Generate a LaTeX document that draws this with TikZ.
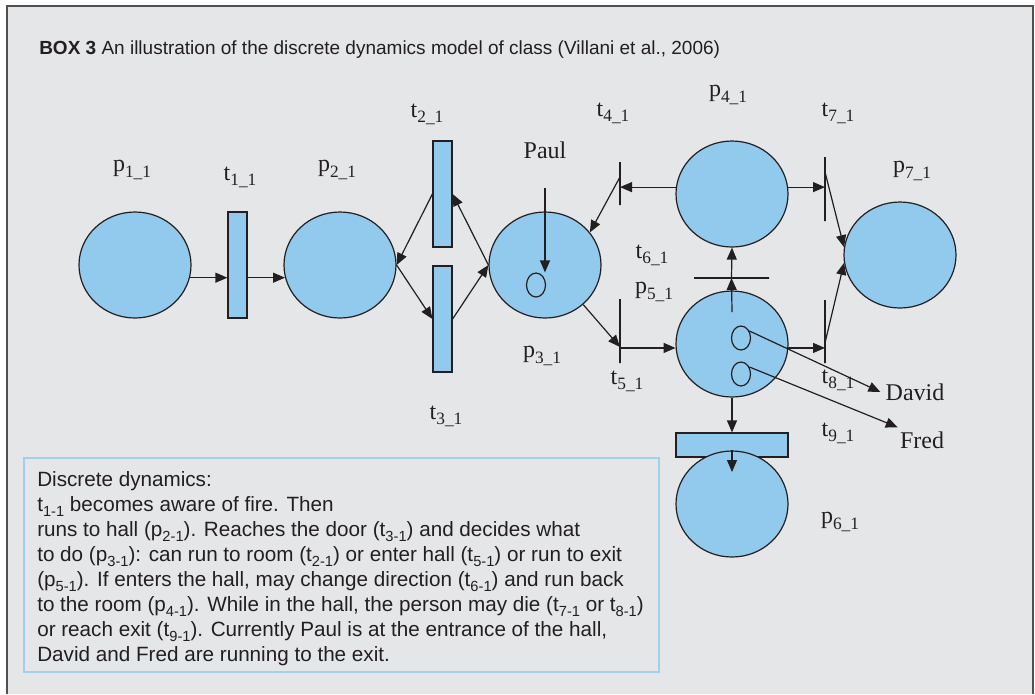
\documentclass[tikz,border=0pt]{standalone}
\usepackage{fontspec}
\setmainfont{Liberation Serif}
\newfontfamily\boxfont{Liberation Sans}
\usetikzlibrary{shapes.geometric,arrows.meta}
\definecolor{bg}{RGB}{229,230,232}
\definecolor{framec}{RGB}{80,80,82}
\definecolor{placec}{RGB}{146,202,237}
\definecolor{boxline}{RGB}{160,208,238}
\definecolor{ink}{RGB}{35,31,32}
\newcommand\lsub[1]{\raisebox{-0.22em}{\fontsize{13}{13}\selectfont #1}}
\newcommand\bsub[1]{\raisebox{-0.25em}{\fontsize{11}{11}\selectfont #1}}
\begin{document}
\begin{tikzpicture}[x=0.75pt,y=-0.75pt,
 place/.style={ellipse,draw=ink,fill=placec,line width=0.9pt,minimum width=84pt,minimum height=79.5pt,inner sep=0pt},
 trans/.style={rectangle,draw=ink,fill=placec,line width=0.9pt,inner sep=0pt},
 vtrans/.style={trans,minimum width=14.25pt,minimum height=79.5pt},
 bar/.style={draw=ink,line width=0.9pt,inner sep=0pt,minimum width=0pt},
 token/.style={ellipse,draw=ink,line width=0.9pt,minimum width=14.25pt,minimum height=18pt,inner sep=0pt},
 lbl/.style={font=\fontsize{18}{18}\selectfont,inner sep=0pt,text=ink},
 arr/.style={-{Triangle[length=9pt,width=7.5pt]},line width=0.9pt,draw=ink},
]
\useasboundingbox (0,0) rectangle (1035,694);
\fill[white] (0,0) rectangle (1035,694);
\fill[bg] (7,6) rectangle (1033,694);
\draw[framec,line width=1.5pt] (7,694) -- (7,6) -- (1033,6) -- (1033,694);

\node[anchor=base west,inner sep=0pt,text=ink,font=\boxfont\fontsize{14.25}{17}\selectfont] (title) at (39,54)
 {\textbf{BOX 3} An illustration of the discrete dynamics model of class (Villani et al., 2006)};

% text box
\node[draw=boxline,line width=1.2pt,fill=bg,anchor=north west,minimum width=476.25pt,minimum height=160.5pt,inner sep=0pt] (descbox) at (23,457) {};
\node[anchor=north west,align=left,inner sep=0pt,text=ink,font=\boxfont\fontsize{15.5}{18.75}\selectfont] (desc) at (37,471)
{Discrete dynamics:\\
t\bsub{1-1} becomes aware of fire. Then\\
runs to hall (p\bsub{2-1}). Reaches the door (t\bsub{3-1}) and decides what\\
to do (p\bsub{3-1}): can run to room (t\bsub{2-1}) or enter hall (t\bsub{5-1}) or run to exit\\
(p\bsub{5-1}). If enters the hall, may change direction (t\bsub{6-1}) and run back\\
to the room (p\bsub{4-1}). While in the hall, the person may die (t\bsub{7-1} or t\bsub{8-1})\\
or reach exit (t\bsub{9-1}). Currently Paul is at the entrance of the hall,\\
David and Fred are running to the exit.};

% places and transitions
\node[place] (p1) at (135,265) {};
\node[vtrans] (t1) at (237.5,265) {};
\node[place] (p2) at (340,265) {};
\node[vtrans] (t2) at (442.5,194) {};
\node[vtrans] (t3) at (442.5,319) {};
\node[place] (p3) at (545,265) {};
\node[token] (k3) at (536,285) {};
\node[place] (p4) at (732,194) {};
\node[place] (p5) at (732,344) {};
\node[place] (p7) at (900,255) {};
\node[token] (k5a) at (741,338) {};
\node[token] (k5b) at (741,374) {};
\node[trans,minimum width=84pt,minimum height=18pt] (t9) at (732,445) {};
\node[place] (p6) at (732,504) {};
\node[bar,minimum height=32.25pt] (t4) at (620,183.5) {};
\node[bar,minimum height=48pt] (t5) at (620,331) {};
\node[bar,minimum height=48pt] (t7) at (825,189) {};
\node[bar,minimum height=47.25pt] (t8) at (825,331.5) {};
\node[bar,minimum width=56.25pt,minimum height=0pt] (t6) at (731.5,278) {};

% labels
\node[lbl] (lp1) at (132,170) {p\lsub{1\_1}};
\node[lbl] (lt1) at (240,177) {t\lsub{1\_1}};
\node[lbl] (lp2) at (337,170) {p\lsub{2\_1}};
\node[lbl] (lt2) at (427,114) {t\lsub{2\_1}};
\node[lbl] (lt3) at (446,416) {t\lsub{3\_1}};
\node[lbl] (Paul) at (545,150) {Paul};
\node[lbl] (lt4) at (613,113) {t\lsub{4\_1}};
\node[lbl] (lp4) at (728,95) {p\lsub{4\_1}};
\node[lbl] (lt7) at (838,113) {t\lsub{7\_1}};
\node[lbl] (lp7) at (912,171) {p\lsub{7\_1}};
\node[lbl] (lt6) at (652,255) {t\lsub{6\_1}};
\node[lbl] (lp5) at (654,292) {p\lsub{5\_1}};
\node[lbl] (lp3) at (542,356) {p\lsub{3\_1}};
\node[lbl] (lt5) at (627,381) {t\lsub{5\_1}};
\node[lbl] (lt8) at (838,380) {t\lsub{8\_1}};
\node[lbl] (lt9) at (838,433) {t\lsub{9\_1}};
\node[lbl] (David) at (915,392) {David};
\node[lbl] (Fred) at (922,440) {Fred};
\node[lbl] (lp6) at (840,522) {p\lsub{6\_1}};

\coordinate (paulstart) at (545,188);
\coordinate (p5in) at (732,312);
\coordinate (p6tip) at (732,472);

% arcs
\draw[arr] (p1.-13.5) -- (t1.west |- p1.-13.5);
\draw[arr] (t1.east |- p2.193.5) -- (p2.193.5);
\draw[arr] (t2.west) -- (p2.east);
\draw[arr] (p2.east) -- (t3.west);
\draw[arr] (t3.east) -- (p3.west);
\draw[arr] (p3.west) -- (t2.east);
\draw[arr] (paulstart) -- (paulstart |- k3.north);
\draw[arr] (p4.173) -- (t4 |- p4.173);
\draw[arr] ([yshift=4.9pt]t4.center) -- (p3.36);
\draw[arr] (p3.-46) -- ([yshift=-12pt]t5.center);
\draw[arr] (t5 |- p5.184) -- (p5.184);
\draw[arr] (p4.7) -- (t7 |- p4.7);
\draw[arr] ([yshift=12.75pt]t7.center) -- (p7.172);
\draw[arr] (p5.-4) -- (t8 |- p5.-4);
\draw[arr] ([yshift=-8.6pt]t8.center) -- (p7.188);
\draw[arr] (p5in) -- (t6.center);
\draw[arr] (t6.center) -- (p4.south);
\draw[arr] (p5.south) -- (t9.north);
\draw[arr] (p6.north) -- (p6tip);
\draw[arr] (k5a.40) -- ([xshift=-3.75pt]David.west);
\draw[arr] (k5b.40) -- ([shift={(-1.5pt,3pt)}]Fred.north west);
\end{tikzpicture}
\end{document}
